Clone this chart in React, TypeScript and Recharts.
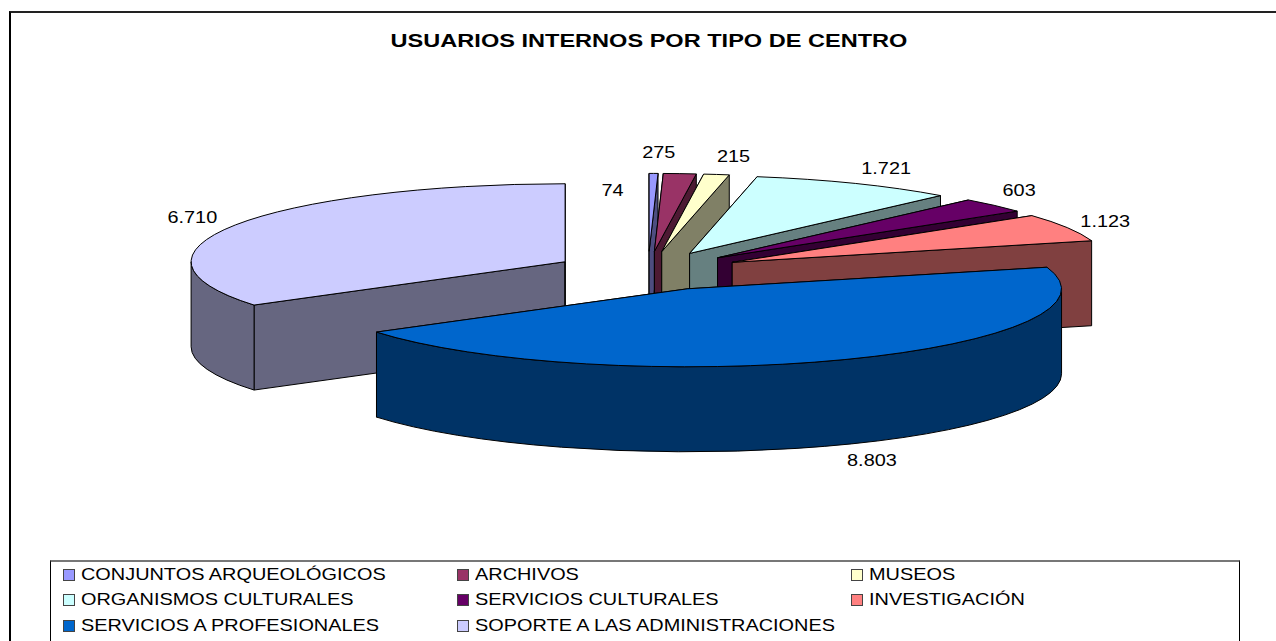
import { Legend, Pie, PieChart } from "recharts";

const WIDTH = 1276;
const HEIGHT = 641;

const CATEGORIES = [
  "CONJUNTOS ARQUEOLÓGICOS",
  "ARCHIVOS",
  "MUSEOS",
  "ORGANISMOS CULTURALES",
  "SERVICIOS CULTURALES",
  "INVESTIGACIÓN",
  "SERVICIOS A PROFESIONALES",
  "SOPORTE A LAS ADMINISTRACIONES",
];
const VALUES = [74, 275, 215, 1721, 603, 1123, 8803, 6710];
const COLORS = ["#9999ff", "#993366", "#ffffcc", "#ccffff", "#660066", "#ff8080", "#0066cc", "#ccccff"];

// fake 3D look: the circle from recharts gets squashed into an ellipse and extruded
const RX = 374;
const RY = 78;
const DEPTH = 85;
const EXPLODE = 94;
const CX = 648;
const CY = 271;

// label offsets from the outer rim of each slice
const LABEL_NUDGE: Record<string, [number, number]> = {
  "CONJUNTOS ARQUEOLÓGICOS": [-41, 17],
  ARCHIVOS: [-21, -22],
  MUSEOS: [17, -18],
  "ORGANISMOS CULTURALES": [31, -15],
  "SERVICIOS CULTURALES": [25, -15],
  "INVESTIGACIÓN": [38, -7],
  "SERVICIOS A PROFESIONALES": [27, 100],
  "SOPORTE A LAS ADMINISTRACIONES": [-43, -8],
};

const FONT = "'Liberation Sans', Arial, sans-serif";
// the original text is stretched sideways
const STRETCH = 1.17;

const rows = CATEGORIES.map((name, i) => ({ name, value: VALUES[i], fill: COLORS[i] }));
// last slice goes first so the big blue one is painted over it, like the original
const pieData = [rows[rows.length - 1], ...rows.slice(0, -1)];
const total = VALUES.reduce((a, b) => a + b, 0);
const START = 90 + (VALUES[VALUES.length - 1] / total) * 360;

const rad = (a: number) => (a * Math.PI) / 180;
const formatValue = (v: number) => String(v).replace(/\B(?=(\d{3})+$)/g, ".");

function darken(hex: string) {
  const n = parseInt(hex.slice(1), 16);
  const c = [(n >> 16) & 255, (n >> 8) & 255, n & 255].map((v) => Math.round(v / 2));
  return `rgb(${c.join(",")})`;
}

function apex(cx: number, cy: number, midAngle: number) {
  return {
    x: cx + EXPLODE * Math.cos(rad(midAngle)),
    y: cy - (EXPLODE * RY * Math.sin(rad(midAngle))) / RX,
  };
}

function Slice3D(props: any) {
  const { cx, cy, startAngle, endAngle, fill } = props;
  // normalise so the slice runs clockwise from start (high) to end (low)
  const s = startAngle > 180 ? startAngle - 360 : startAngle;
  const e = s - (startAngle - endAngle);
  const mid = (s + e) / 2;
  const c = apex(cx, cy, mid);
  const pt = (a: number, dz = 0) => ({
    x: c.x + RX * Math.cos(rad(a)),
    y: c.y - RY * Math.sin(rad(a)) + dz,
  });
  const p0 = pt(s);
  const p1 = pt(e);
  const side = darken(fill);
  const wall = (p: { x: number; y: number }) =>
    `M${c.x},${c.y} L${p.x},${p.y} L${p.x},${p.y + DEPTH} L${c.x},${c.y + DEPTH} Z`;
  const large = s - e > 180 ? 1 : 0;
  const top = `M${c.x},${c.y} L${p0.x},${p0.y} A${RX},${RY} 0 ${large} 1 ${p1.x},${p1.y} Z`;

  // outer wall only shows on the front half of the ellipse
  const wallFrom = Math.min(s, 0);
  const wallTo = Math.max(e, -180);
  let rim = null;
  if (wallFrom > wallTo) {
    const a = pt(wallFrom);
    const b = pt(wallTo);
    rim = `M${a.x},${a.y} A${RX},${RY} 0 0 1 ${b.x},${b.y} L${b.x},${b.y + DEPTH} A${RX},${RY} 0 0 0 ${a.x},${a.y + DEPTH} Z`;
  }

  return (
    <g stroke="#000" strokeWidth={1} strokeLinejoin="round">
      <path d={wall(p0)} fill={side} />
      <path d={wall(p1)} fill={side} />
      {rim && <path d={rim} fill={side} />}
      <path d={top} fill={fill} />
    </g>
  );
}

function SliceLabel(props: any) {
  const { cx, cy, midAngle, value, name } = props;
  const c = apex(cx, cy, midAngle);
  const [dx, dy] = LABEL_NUDGE[name] ?? [0, 0];
  const x = c.x + RX * Math.cos(rad(midAngle)) + dx;
  const y = c.y - RY * Math.sin(rad(midAngle)) + dy;
  return (
    <text
      transform={`translate(${x},${y}) scale(${STRETCH},1)`}
      textAnchor="middle"
      dominantBaseline="central"
      fontFamily={FONT}
      fontSize={17}
      fill="#000"
    >
      {formatValue(value)}
    </text>
  );
}

function ChartLegend() {
  return (
    <div
      style={{
        boxSizing: "border-box",
        width: 1190,
        height: 100,
        border: "1px solid #000",
        borderTop: "2px solid #777",
        background: "#fff",
        display: "grid",
        gridTemplateColumns: "394px 394px 1fr",
        gridAutoRows: "25.5px",
        paddingLeft: 12,
        fontFamily: FONT,
        fontSize: 17,
        color: "#000",
      }}
    >
      {rows.map((r) => (
        <div key={r.name} style={{ display: "flex", alignItems: "center", whiteSpace: "nowrap" }}>
          <span
            style={{
              boxSizing: "border-box",
              flex: "none",
              width: 12,
              height: 12,
              marginRight: 6,
              background: r.fill,
              border: "1px solid #444",
            }}
          />
          <span style={{ display: "inline-block", transform: `scaleX(${STRETCH})`, transformOrigin: "left center" }}>
            {r.name}
          </span>
        </div>
      ))}
    </div>
  );
}

export default function App() {
  return (
    <div
      style={{
        position: "absolute",
        left: 0,
        top: 0,
        width: WIDTH,
        height: HEIGHT,
        overflow: "hidden",
        background: "#fff",
      }}
    >
      <div
        style={{
          position: "absolute",
          left: 9,
          top: 11,
          width: WIDTH,
          height: HEIGHT,
          borderLeft: "2px solid #000",
          borderTop: "2px solid #222",
        }}
      />
      <PieChart
        width={WIDTH}
        height={HEIGHT}
        margin={{ top: 0, right: 0, bottom: 0, left: 0 }}
        style={{ position: "absolute", left: 0, top: 0 }}
      >
        <text
          transform="translate(649,47) scale(1.24,1)"
          textAnchor="middle"
          fontFamily={FONT}
          fontSize={19}
          fontWeight="bold"
          fill="#000"
        >
          USUARIOS INTERNOS POR TIPO DE CENTRO
        </text>
        <Pie
          data={pieData}
          dataKey="value"
          nameKey="name"
          cx={CX}
          cy={CY}
          outerRadius={RX}
          startAngle={START}
          endAngle={START - 360}
          shape={Slice3D}
          label={SliceLabel}
          labelLine={false}
          isAnimationActive={false}
        />
        <Legend
          content={ChartLegend}
          wrapperStyle={{ left: 50, top: 560, width: 1190, bottom: "auto" }}
        />
      </PieChart>
    </div>
  );
}
